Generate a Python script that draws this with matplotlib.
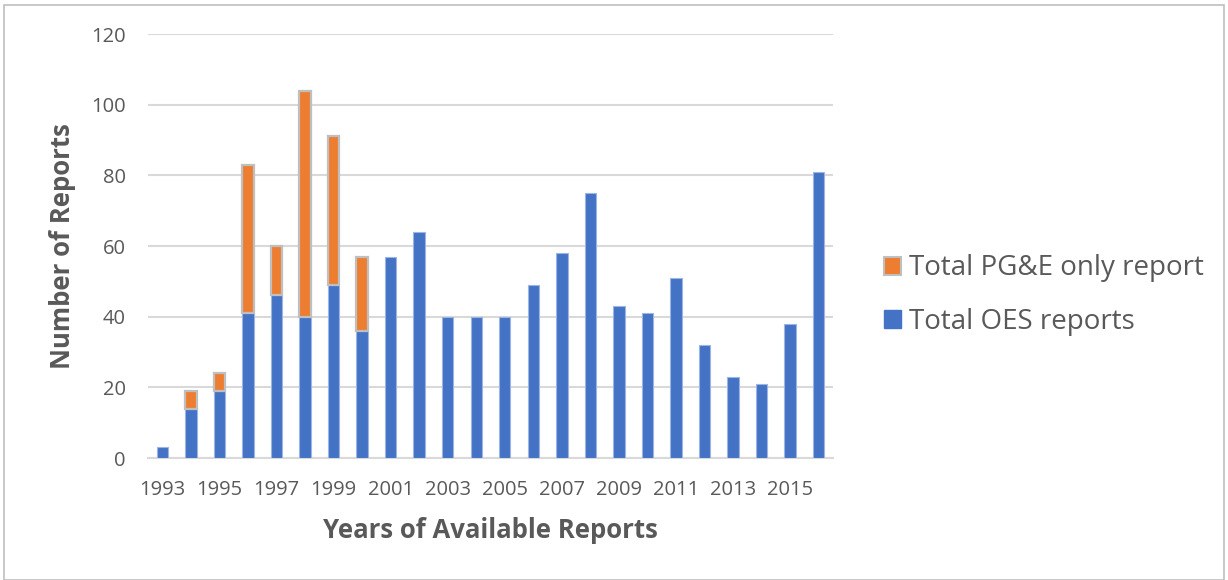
import matplotlib
matplotlib.use("Agg")
import matplotlib.pyplot as plt
from matplotlib.patches import Rectangle, Patch

years = list(range(1993, 2017))
oes_reports = [3, 14, 19, 41, 46, 40, 49, 36, 57, 64, 40, 40, 40, 49, 58, 75,
               43, 41, 51, 32, 23, 21, 38, 81]
pge_only = [0, 5, 5, 42, 14, 64, 42, 21, 0, 0, 0, 0, 0, 0, 0, 0,
            0, 0, 0, 0, 0, 0, 0, 0]
tick_years = [str(y) for y in years[::2]]

plt.rcParams['font.family'] = ['Open Sans', 'DejaVu Sans']
text_grey = '#595959'
blue = '#4472C4'
orange = '#ED7D31'

fig = plt.figure(figsize=(12.28, 5.8), dpi=100)
ax = fig.add_axes([148 / 1228, 1 - 458 / 580, (833 - 148) / 1228, (458 - 34) / 580])

x = list(range(len(years)))
ax.bar(x, oes_reports, width=0.4, color=blue, edgecolor='#9DB5E3', linewidth=0.8,
       zorder=3, label='Total OES reports')
pge_x = [i for i, v in enumerate(pge_only) if v > 0]
ax.bar(pge_x, [pge_only[i] for i in pge_x], width=0.4,
       bottom=[oes_reports[i] for i in pge_x], color=orange,
       edgecolor='#BFBFBF', linewidth=1.6, zorder=3)

ax.set_xlim(-0.5, len(years) - 0.5)
ax.set_ylim(0, 120)
ax.set_yticks(range(0, 121, 20))
ax.set_xticks(x[::2])
ax.set_xticklabels(tick_years)
ax.tick_params(axis='both', length=0, labelsize=14.5, labelcolor=text_grey)
ax.tick_params(axis='y', pad=16)
ax.tick_params(axis='x', pad=16)
ax.grid(axis='y', color='#D9D9D9', linewidth=1.5, zorder=0)
for side in ('top', 'right', 'left'):
    ax.spines[side].set_visible(False)
ax.spines['bottom'].set_color('#D9D9D9')
ax.spines['bottom'].set_linewidth(1.5)

ax.set_ylabel('Number of Reports', fontsize=18.5, fontweight='bold', color=text_grey)
ax.yaxis.set_label_coords(-(148 - 62) / 685, 0.5)
ax.set_xlabel('Years of Available Reports', fontsize=18.5, fontweight='bold', color=text_grey)
ax.xaxis.set_label_coords(0.5, -(530 - 458) / 424)
ax.xaxis.label.set_va('center')
ax.yaxis.label.set_va('center')

handles = [Patch(facecolor=orange, edgecolor='#BFBFBF', linewidth=1.5),
           Patch(facecolor=blue, edgecolor=blue)]
fig.legend(handles, ['Total PG&E only report', 'Total OES reports'],
           loc='center left', bbox_to_anchor=(884 / 1228, 1 - 295 / 580),
           frameon=False, fontsize=20, labelcolor=text_grey, borderpad=0,
           borderaxespad=0, handlelength=0.6, handleheight=0.6,
           handletextpad=0.3, labelspacing=0.9)

fig.patches.append(Rectangle((4 / 1228, 0), 1220 / 1228, 1 - 5 / 580,
                             transform=fig.transFigure, fill=False,
                             edgecolor='#BFBFBF', linewidth=1.2))

fig.savefig('out.png', dpi=100)
